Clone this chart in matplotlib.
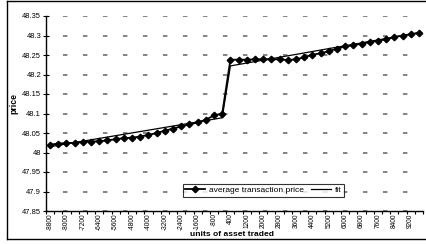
import matplotlib
matplotlib.use("Agg")
import matplotlib.pyplot as plt
from matplotlib.lines import Line2D
from matplotlib.ticker import FuncFormatter

plt.rcParams['font.family'] = ['Liberation Sans', 'DejaVu Sans']
plt.rcParams['lines.scale_dashes'] = False

# units of asset traded (category axis, no 0)
units = list(range(-8800, 0, 400)) + list(range(400, 10000, 400))

# average transaction price
avg_price = [48.020, 48.023, 48.024, 48.025, 48.027, 48.028, 48.029, 48.031,
             48.034, 48.037, 48.038, 48.041, 48.045, 48.050, 48.056, 48.061,
             48.067, 48.072, 48.077, 48.084, 48.095, 48.100,
             48.238, 48.238, 48.238, 48.239, 48.239, 48.239, 48.239, 48.237,
             48.239, 48.244, 48.251, 48.254, 48.260, 48.266, 48.272, 48.275,
             48.279, 48.283, 48.287, 48.290, 48.296, 48.300, 48.303, 48.307]

# fitted line (linear on each side of the jump)
fit_ends = [(48.015, 48.089), (48.222, 48.307)]
n_left = sum(1 for u in units if u < 0)
n_right = len(units) - n_left
fit = ([fit_ends[0][0] + (fit_ends[0][1] - fit_ends[0][0]) * i / (n_left - 1) for i in range(n_left)] +
       [fit_ends[1][0] + (fit_ends[1][1] - fit_ends[1][0]) * i / (n_right - 1) for i in range(n_right)])

yticks = [47.85, 47.9, 47.95, 48.0, 48.05, 48.1, 48.15, 48.2, 48.25, 48.3, 48.35]

W, H = 427, 244
fig = plt.figure(figsize=(W / 100, H / 100), dpi=100)
ax = fig.add_axes([46 / W, (H - 211) / H, (423 - 46) / W, (211 - 16) / H])

x = list(range(len(units)))
ax.plot(x, avg_price, color='black', lw=1.3, marker='D', ms=3.3,
        label='average transaction price')
ax.plot(x, fit, color='black', lw=0.9, label='fit')

ax.set_xlim(-0.5, len(units) - 0.5)
ax.set_ylim(47.85, 48.35)
ax.set_yticks(yticks)
ax.yaxis.set_major_formatter(FuncFormatter(lambda v, p: f"{v:g}"))
ax.grid(axis='y', color='#6e6e6e', lw=1.2, linestyle=(2.2, (3.2, 11.2)))

# tick marks between categories, labels on every second category
ax.set_xticks([i - 0.5 for i in range(len(units) + 1)])
ax.set_xticklabels([])
ax.set_xticks(x[::2], minor=True)
ax.set_xticklabels([str(u) for u in units[::2]], minor=True, rotation=90, fontsize=4.7)
ax.tick_params(axis='x', which='minor', length=0, pad=1.6)
ax.tick_params(axis='x', which='major', length=2.5, width=0.8, direction='out')
ax.tick_params(axis='y', length=4, width=0.8, labelsize=5.4, pad=1.5, direction='inout')

for s in ['top', 'right']:
    ax.spines[s].set_visible(False)
for s in ['left', 'bottom']:
    ax.spines[s].set_linewidth(1.0)

fig.text(14 / W, 1 - 103 / H, 'price', rotation=90, fontsize=6.2, fontweight='bold',
         ha='center', va='center')
fig.text(232 / W, 1 - 234.5 / H, 'units of asset traded', fontsize=6.1,
         fontweight='bold', ha='center', va='center')

leg = ax.legend(ncol=2, loc='lower left', bbox_to_anchor=(0.363, 0.073),
                fontsize=6, frameon=True, fancybox=False, handlelength=2.4,
                borderpad=0.3, columnspacing=0.9, handletextpad=0.4,
                borderaxespad=0)
leg.get_frame().set_edgecolor('black')
leg.get_frame().set_linewidth(0.8)

# chart border (right side runs off the picture)
for xs, ys in [((7, 7), (1, 239)), ((7, W), (1, 1)), ((7, W), (239, 239))]:
    fig.add_artist(Line2D([v / W for v in xs], [1 - v / H for v in ys],
                          transform=fig.transFigure, color='black', lw=1.0))

fig.savefig('out.png', dpi=100)
